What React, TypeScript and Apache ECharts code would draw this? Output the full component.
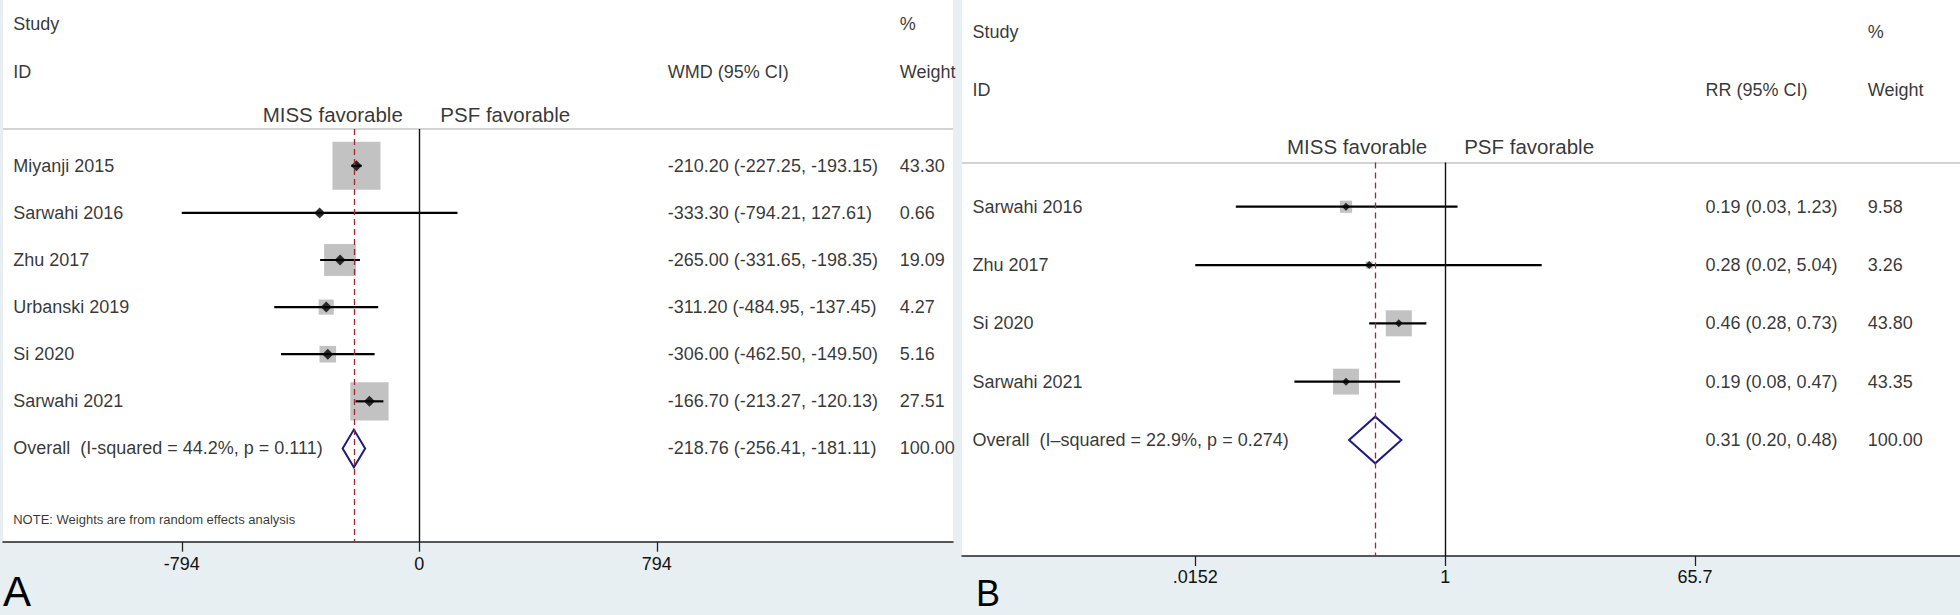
import React, { useEffect, useRef } from "react";
import * as echarts from "echarts";

// ---------- Panel A (WMD) ----------
const studiesA = ["Miyanji 2015", "Sarwahi 2016", "Zhu 2017", "Urbanski 2019", "Si 2020", "Sarwahi 2021"];
const estA = [-210.2, -333.3, -265.0, -311.2, -306.0, -166.7];
const lowA = [-227.25, -794.21, -331.65, -484.95, -462.5, -213.27];
const highA = [-193.15, 127.61, -198.35, -137.45, -149.5, -120.13];
const weightA = [43.3, 0.66, 19.09, 4.27, 5.16, 27.51];
const overallEstA = -218.76;
const overallLowA = -256.41;
const overallHighA = -181.11;
const overallLabelA = "Overall  (I-squared = 44.2%, p = 0.111)";
const noteA = "NOTE: Weights are from random effects analysis";
const ticksA = [-794, 0, 794];
const tickLabelsA = ["-794", "0", "794"];

// ---------- Panel B (RR) ----------
const studiesB = ["Sarwahi 2016", "Zhu 2017", "Si 2020", "Sarwahi 2021"];
const estB = [0.19, 0.28, 0.46, 0.19];
const lowB = [0.03, 0.0152, 0.28, 0.08];
const highB = [1.23, 5.04, 0.73, 0.47];
const weightB = [9.58, 3.26, 43.8, 43.35];
const overallEstB = 0.31;
const overallLowB = 0.2;
const overallHighB = 0.48;
const overallLabelB = "Overall  (I\u2013squared = 22.9%, p = 0.274)";
const ticksB = [0.0152, 1, 65.7];
const tickLabelsB = [".0152", "1", "65.7"];

const FONT = "'Liberation Sans', Arial, Helvetica, sans-serif";
const BG = "#e8eff2";
const BOX = "#b3b3b3";
const NAVY = "#1c1c7a";
const RED = "#a3282e";

type PanelCfg = {
  gridIndex: number;
  studies: string[];
  est: number[];
  low: number[];
  high: number[];
  weight: number[];
  oEst: number;
  oLow: number;
  oHigh: number;
  oLabel: string;
  ciText: (e: number, l: number, h: number) => string;
  colHead: string;
  tf: (v: number) => number;
  xMin: number;
  xMax: number;
  yMin: number;
  yMax: number;
  pxWidth: number;
  headerRow: number;
  favRow: number;
  favLeftGap: number;
  favRightGap: number;
  colStudy: number;
  colEst: number;
  colWeight: number;
  boxScale: number;
  note?: string;
  noteRow?: number;
  ticks: number[];
  tickLabels: string[];
  labelMargin: number;
  pointSize: number;
};

function buildPanel(c: PanelCfg) {
  const gi = c.gridIndex;
  const xData = gi * 2;
  const xPx = gi * 2 + 1;
  const yi = gi;
  const n = c.studies.length;
  const overallRow = n;

  const xAxes = [
    {
      type: "value",
      gridIndex: gi,
      min: c.xMin,
      max: c.xMax,
      position: "bottom",
      splitLine: { show: false },
      axisLine: { show: true, onZero: false, lineStyle: { color: "#222", width: 1.5 } },
      axisTick: {
        show: true,
        inside: false,
        length: 10,
        customValues: c.ticks.map(c.tf),
        lineStyle: { color: "#222", width: 1.3 },
      },
      axisLabel: {
        show: true,
        customValues: c.ticks.map(c.tf),
        margin: c.labelMargin,
        fontSize: 18,
        fontFamily: FONT,
        color: "#111",
        formatter: (v: number) => {
          let best = 0;
          let d = Infinity;
          c.ticks.forEach((t, i) => {
            const dd = Math.abs(c.tf(t) - v);
            if (dd < d) {
              d = dd;
              best = i;
            }
          });
          return c.tickLabels[best];
        },
      },
    },
    {
      type: "value",
      gridIndex: gi,
      min: 0,
      max: c.pxWidth,
      position: "top",
      show: false,
    },
  ];
  const yAxes = [
    {
      type: "value",
      gridIndex: gi,
      inverse: true,
      min: c.yMin,
      max: c.yMax,
      show: false,
    },
  ];

  const textItem = (x: number, row: number, text: string, size = 18) => ({
    value: [x, row],
    label: { formatter: text, fontSize: size },
  });

  const texts: any[] = [
    textItem(c.colStudy, -3, "Study"),
    textItem(c.colStudy, -2, "ID"),
    textItem(c.colEst, -2, c.colHead),
    textItem(c.colWeight, -3, "%"),
    textItem(c.colWeight, -2, "Weight"),
  ];
  c.studies.forEach((s, i) => {
    texts.push(textItem(c.colStudy, i, s));
    texts.push(textItem(c.colEst, i, c.ciText(c.est[i], c.low[i], c.high[i])));
    texts.push(textItem(c.colWeight, i, c.weight[i].toFixed(2)));
  });
  texts.push(textItem(c.colStudy, overallRow, c.oLabel));
  texts.push(textItem(c.colEst, overallRow, c.ciText(c.oEst, c.oLow, c.oHigh)));
  texts.push(textItem(c.colWeight, overallRow, (100).toFixed(2)));
  if (c.note) texts.push(textItem(c.colStudy, c.noteRow as number, c.note, 13));

  const series: any[] = [
    {
      type: "scatter",
      xAxisIndex: xData,
      yAxisIndex: yi,
      data: [],
      z: 1,
      silent: true,
      markLine: {
        silent: true,
        symbol: "none",
        label: { show: false },
        animation: false,
        data: [
          [
            { coord: [c.xMin, c.headerRow], lineStyle: { color: "#c4c4c4", width: 1.6, type: "solid" } },
            { coord: [c.xMax, c.headerRow] },
          ],
          [
            { coord: [0, c.headerRow], lineStyle: { color: "#111", width: 1.4, type: "solid" } },
            { coord: [0, c.yMax] },
          ],
          [
            { coord: [c.tf(c.oEst), c.headerRow], lineStyle: { color: RED, width: 1.3, type: [6, 4] } },
            { coord: [c.tf(c.oEst), c.yMax] },
          ],
        ],
      },
    },
    {
      type: "scatter",
      xAxisIndex: xData,
      yAxisIndex: yi,
      symbol: "rect",
      symbolSize: (v: number[]) => c.boxScale * Math.sqrt(v[2]),
      itemStyle: { color: BOX },
      z: 2,
      silent: true,
      data: c.est.map((e, i) => [c.tf(e), i, c.weight[i]]),
    },
    {
      type: "custom",
      xAxisIndex: xData,
      yAxisIndex: yi,
      z: 3,
      silent: true,
      clip: false,
      encode: { x: [0, 1], y: 2 },
      data: c.low.map((l, i) => [c.tf(l), c.tf(c.high[i]), i]),
      renderItem: (_p: any, api: any) => {
        const a = api.coord([api.value(0), api.value(2)]);
        const b = api.coord([api.value(1), api.value(2)]);
        return {
          type: "line",
          shape: { x1: a[0], y1: a[1], x2: b[0], y2: b[1] },
          style: { stroke: "#000", lineWidth: 2.2 },
        };
      },
    },
    {
      type: "scatter",
      xAxisIndex: xData,
      yAxisIndex: yi,
      symbol: "diamond",
      symbolSize: [c.pointSize, c.pointSize],
      itemStyle: { color: "#000" },
      z: 4,
      silent: true,
      data: c.est.map((e, i) => [c.tf(e), i]),
    },
    {
      type: "custom",
      xAxisIndex: xData,
      yAxisIndex: yi,
      z: 4,
      silent: true,
      clip: false,
      encode: { x: [0, 1, 2], y: 3 },
      data: [[c.tf(c.oLow), c.tf(c.oEst), c.tf(c.oHigh), overallRow]],
      renderItem: (_p: any, api: any) => {
        const r = api.value(3);
        const pL = api.coord([api.value(0), r]);
        const pT = api.coord([api.value(1), r - 0.4]);
        const pR = api.coord([api.value(2), r]);
        const pB = api.coord([api.value(1), r + 0.4]);
        return {
          type: "polygon",
          shape: { points: [pL, pT, pR, pB] },
          style: { fill: "none", stroke: NAVY, lineWidth: 2 },
        };
      },
    },
    {
      type: "scatter",
      xAxisIndex: xData,
      yAxisIndex: yi,
      symbolSize: 1,
      itemStyle: { color: "rgba(0,0,0,0)" },
      z: 5,
      silent: true,
      label: { show: true, fontSize: 20.5, fontFamily: FONT, color: "#000" },
      data: [
        { value: [0, c.favRow], label: { formatter: "MISS favorable", position: "left", distance: c.favLeftGap } },
        { value: [0, c.favRow], label: { formatter: "PSF favorable", position: "right", distance: c.favRightGap } },
      ],
    },
    {
      type: "scatter",
      xAxisIndex: xPx,
      yAxisIndex: yi,
      symbolSize: 1,
      itemStyle: { color: "rgba(0,0,0,0)" },
      z: 5,
      silent: true,
      label: {
        show: true,
        position: "right",
        distance: 0,
        fontFamily: FONT,
        color: "#000",
        fontSize: 18,
      },
      data: texts,
    },
  ];
  return { xAxes, yAxes, series };
}

export default function App() {
  const ref = useRef<HTMLDivElement>(null);
  useEffect(() => {
    if (!ref.current) return;
    const chart = echarts.init(ref.current, undefined, { renderer: "svg" });

    const fmt = (e: number, l: number, h: number) =>
      `${e.toFixed(2)} (${l.toFixed(2)}, ${h.toFixed(2)})`;

    const A = buildPanel({
      gridIndex: 0,
      studies: studiesA,
      est: estA,
      low: lowA,
      high: highA,
      weight: weightA,
      oEst: overallEstA,
      oLow: overallLowA,
      oHigh: overallHighA,
      oLabel: overallLabelA,
      ciText: fmt,
      colHead: "WMD (95% CI)",
      tf: (v) => v,
      xMin: -1391.8,
      xMax: 1784.2,
      yMin: -3.52,
      yMax: 7.98,
      pxWidth: 950,
      headerRow: -0.78,
      favRow: -1.08,
      favLeftGap: 16,
      favRightGap: 20.5,
      colStudy: 9.7,
      colEst: 664.3,
      colWeight: 896.3,
      boxScale: 7.3,
      note: noteA,
      noteRow: 7.5,
      ticks: ticksA,
      tickLabels: tickLabelsA,
      labelMargin: 13,
      pointSize: 11,
    });
    const B = buildPanel({
      gridIndex: 1,
      studies: studiesB,
      est: estB,
      low: lowB,
      high: highB,
      weight: weightB,
      oEst: overallEstB,
      oLow: overallLowB,
      oHigh: overallHighB,
      oLabel: overallLabelB,
      ciText: fmt,
      colHead: "RR (95% CI)",
      tf: (v) => Math.log(v),
      xMin: -8.094,
      xMax: 8.625,
      yMin: -3.545,
      yMax: 5.99,
      pxWidth: 998,
      headerRow: -0.76,
      favRow: -1.03,
      favLeftGap: 17.5,
      favRightGap: 18.5,
      colStudy: 10,
      colEst: 743,
      colWeight: 905.3,
      boxScale: 3.93,
      ticks: ticksB,
      tickLabels: tickLabelsB,
      labelMargin: 12,
      pointSize: 8,
    });

    chart.setOption({
      animation: false,
      backgroundColor: BG,
      grid: [
        { left: 3, top: 0, width: 950, height: 541.7, show: true, backgroundColor: "#fff", borderWidth: 0 },
        { left: 962, top: 0, width: 998, height: 556, show: true, backgroundColor: "#fff", borderWidth: 0 },
      ],
      xAxis: [...A.xAxes, ...B.xAxes],
      yAxis: [...A.yAxes, ...B.yAxes],
      series: [...A.series, ...B.series],
      graphic: [
        {
          type: "text",
          left: 3,
          top: 570,
          style: { text: "A", fontSize: 42, fontFamily: FONT, fill: "#000" },
        },
        {
          type: "text",
          left: 976,
          top: 575,
          style: { text: "B", fontSize: 36, fontFamily: FONT, fill: "#000" },
        },
      ],
    });
    return () => chart.dispose();
  }, []);
  return (
    <div
      ref={ref}
      style={{ position: "fixed", left: 0, top: 0, width: 1960, height: 615 }}
    />
  );
}
